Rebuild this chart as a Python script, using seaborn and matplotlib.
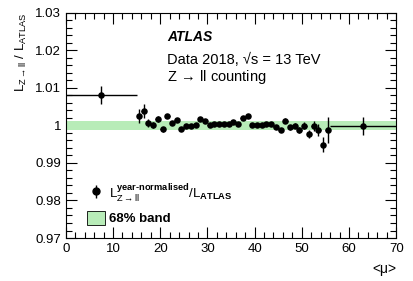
import numpy as np
import pandas as pd
import seaborn as sns
import matplotlib
matplotlib.use("Agg")
import matplotlib.pyplot as plt
from matplotlib.patches import Patch
from matplotlib.ticker import MultipleLocator, FormatStrFormatter

# <mu> bins (centres and half widths)
mu = [7.5] + [15.5 + i for i in range(41)] + [63.0]
mu_err = [7.5] + [0.5] * 41 + [7.0]

ratio = [1.0081,
         1.0025, 1.0039, 1.0006, 1.0001, 1.0017, 0.9990, 1.0025, 1.0006, 1.0015, 0.9990,
         0.9999, 0.9999, 1.0001, 1.0017, 1.0012, 1.0001, 1.0003, 1.0003, 1.0004, 1.0004,
         1.0010, 1.0004, 1.0019, 1.0024, 1.0001, 1.0001, 1.0001, 1.0004, 1.0004, 0.9997,
         0.9988, 1.0013, 0.9995, 0.9999, 0.9988, 0.9999, 0.9977, 0.9999, 0.9988, 0.9948,
         0.9988,
         0.9999]
ratio_err = [0.0024,
             0.0018, 0.0018, 0.0010, 0.0009, 0.0007, 0.0007, 0.0006, 0.0005, 0.0005, 0.0004,
             0.0004, 0.0004, 0.0004, 0.0004, 0.0004, 0.0004, 0.0004, 0.0004, 0.0004, 0.0004,
             0.0004, 0.0004, 0.0004, 0.0004, 0.0004, 0.0004, 0.0004, 0.0004, 0.0004, 0.0004,
             0.0005, 0.0006, 0.0006, 0.0007, 0.0008, 0.0009, 0.0010, 0.0013, 0.0015, 0.0020,
             0.0034,
             0.0024]

band_lo, band_hi = 0.9988, 1.0013

df = pd.DataFrame({"mu": mu, "mu_err": mu_err, "ratio": ratio, "ratio_err": ratio_err})

sns.set_theme(style="ticks")
plt.rcParams['font.family'] = ['Liberation Sans', 'DejaVu Sans']
plt.rcParams['text.color'] = 'black'
plt.rcParams['axes.labelcolor'] = 'black'
plt.rcParams['mathtext.fontset'] = 'custom'
plt.rcParams['mathtext.rm'] = 'Liberation Sans'
plt.rcParams['mathtext.it'] = 'Liberation Sans:italic'
plt.rcParams['mathtext.bf'] = 'Liberation Sans:bold'

fig = plt.figure(figsize=(4.14, 2.81), dpi=100)
ax = fig.add_axes([0.159, 0.153, 0.798, 0.801])

band_color = '#b8ecb8'
ax.axhspan(band_lo, band_hi, color=band_color, lw=0, zorder=1)

ax.errorbar(df["mu"], df["ratio"], xerr=df["mu_err"], yerr=df["ratio_err"],
            fmt='none', ecolor='black', elinewidth=1.0, capsize=0, zorder=3)
sns.scatterplot(data=df, x="mu", y="ratio", ax=ax, color='black', s=22,
                edgecolor='black', linewidth=0, zorder=4, legend=False)

ax.set_xlim(0, 70)
ax.set_ylim(0.97, 1.03)
ax.xaxis.set_major_locator(MultipleLocator(10))
ax.xaxis.set_minor_locator(MultipleLocator(2))
ax.yaxis.set_major_locator(MultipleLocator(0.01))
ax.yaxis.set_minor_locator(MultipleLocator(0.002))
ax.yaxis.set_major_formatter(FormatStrFormatter('%g'))
ax.tick_params(which='both', direction='in', top=True, right=True, labelsize=9.5,
               colors='black', width=0.8)
ax.tick_params(which='major', length=8)
ax.tick_params(which='minor', length=4)
for s in ax.spines.values():
    s.set_linewidth(0.8)
    s.set_color('black')

ax.set_xlabel('<μ>', loc='right', fontsize=10, labelpad=5)
ax.set_ylabel(r'L$_{\mathrm{Z\rightarrow ll}}$ / L$_{\mathrm{ATLAS}}$', loc='top',
              fontsize=9.5, labelpad=4)

ax.text(0.306, 0.893, 'ATLAS', transform=ax.transAxes, fontsize=10,
        fontweight='bold', fontstyle='italic', va='center')
ax.text(0.306, 0.791, 'Data 2018, √s = 13 TeV', transform=ax.transAxes,
        fontsize=10.5, va='center')
ax.text(0.306, 0.716, r'Z$\,\rightarrow\,$ll counting', transform=ax.transAxes,
        fontsize=10.5, va='center')

# legend: data entry (marker with vertical error bar)
h_data = ax.errorbar([np.nan], [np.nan], yerr=[np.nan], fmt='o', color='black',
                     markersize=5, elinewidth=1.0, capsize=0)
leg1 = ax.legend([h_data],
                 [r'L$_{\mathrm{Z\rightarrow ll}}^{\mathbf{year‐normalised}}$/L$_{\mathbf{ATLAS}}$'],
                 loc='center left', bbox_to_anchor=(0.064, 0.2), frameon=False,
                 fontsize=9.5, handlelength=1.36, handleheight=1.6, handletextpad=0.3,
                 borderpad=0, borderaxespad=0)
ax.add_artist(leg1)

h_band = Patch(facecolor=band_color, edgecolor='black', linewidth=0.6)
leg2 = ax.legend([h_band], ['68% band'], loc='center left',
                 bbox_to_anchor=(0.064, 0.089), frameon=False, fontsize=9.5,
                 handlelength=1.36, handleheight=1.35, handletextpad=0.3,
                 borderpad=0, borderaxespad=0)
leg2.get_texts()[0].set_fontweight('bold')

fig.savefig('out.png', dpi=100)
